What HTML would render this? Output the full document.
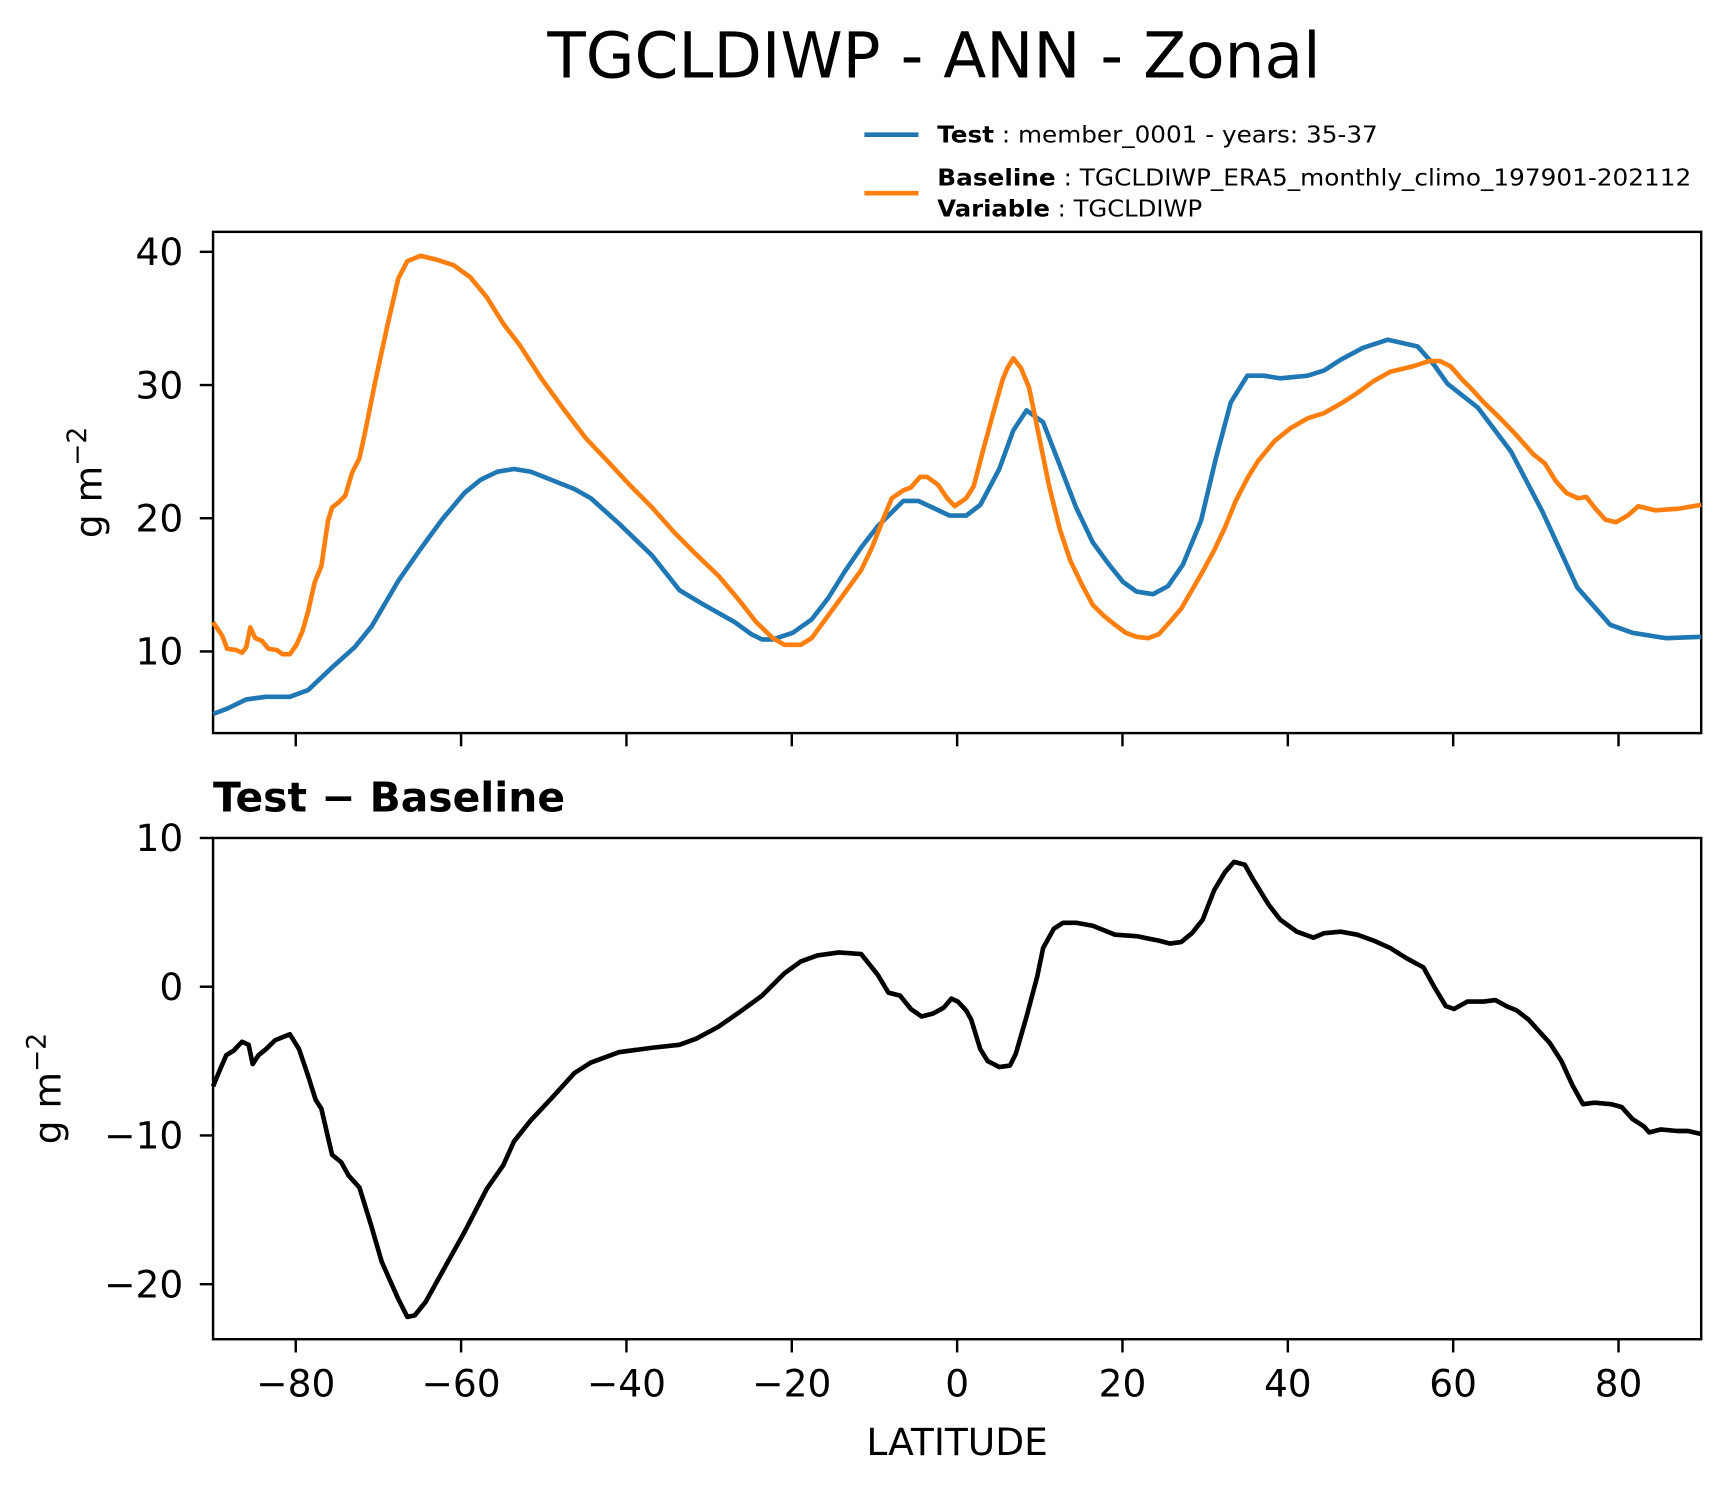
<!DOCTYPE html>
<html><head><meta charset="utf-8"><style>
html,body{margin:0;padding:0;background:#fff;}
svg{display:block;font-family:"DejaVu Sans","Liberation Sans",sans-serif;}
</style></head><body>
<svg id="chart" width="1731" height="1496" viewBox="0 0 1568 1355" preserveAspectRatio="none" xmlns="http://www.w3.org/2000/svg">
<text x="846" y="70" font-size="57" text-anchor="middle">TGCLDIWP - ANN - Zonal</text>
<g>
<line x1="783" y1="122" x2="832" y2="122" stroke="#1f77b4" stroke-width="4.2"/>
<text x="849" y="129" font-size="21" textLength="399" lengthAdjust="spacingAndGlyphs"><tspan font-weight="bold">Test</tspan> : member_0001 - years: 35-37</text>
<line x1="783" y1="175" x2="832" y2="175" stroke="#ff7f0e" stroke-width="4.2"/>
<text x="849" y="168" font-size="21" textLength="683" lengthAdjust="spacingAndGlyphs"><tspan font-weight="bold">Baseline</tspan> : TGCLDIWP_ERA5_monthly_climo_197901-202112</text>
<text x="849" y="196" font-size="21" textLength="240" lengthAdjust="spacingAndGlyphs"><tspan font-weight="bold">Variable</tspan> : TGCLDIWP</text>
</g>
<g id="top"></g>
<g id="bot"></g>
<text x="193" y="735" font-size="37" font-weight="bold">Test − Baseline</text>
<text x="867" y="1318" font-size="34" text-anchor="middle">LATITUDE</text>
<text transform="translate(92,437) rotate(-90)" font-size="34" text-anchor="middle">g m<tspan dy="-14" font-size="24">−2</tspan></text>
<text transform="translate(55,986) rotate(-90)" font-size="34" text-anchor="middle">g m<tspan dy="-14" font-size="24">−2</tspan></text>
</svg>
<script>
const xTicks=[-80,-60,-40,-20,0,20,40,60,80];
const topTicks=[10,20,30,40];
const botTicks=[-20,-10,0,10];
const testLat=[-90,-88.3,-86,-83.6,-80.7,-78.5,-75.6,-72.9,-70.8,-67.6,-64.9,-62.3,-59.6,-57.6,-55.6,-53.6,-51.6,-46.3,-44.3,-40.9,-36.9,-33.6,-30.9,-26.9,-24.9,-23.6,-22.3,-19.9,-17.6,-15.6,-13.6,-11.6,-9.6,-6.5,-4.7,-0.9,1.1,2.8,5.1,6.8,8.4,10.4,12.4,14.4,16.4,18.4,20.1,21.7,23.7,25.5,27.3,29.5,31.3,33.1,35.1,37.1,39.1,42.4,44.4,46.4,49.1,52.1,55.7,57.7,59.3,63,67,70.8,75,79,81.7,85.7,90];
const testVal=[5.3,5.7,6.4,6.6,6.6,7.1,8.8,10.3,11.9,15.3,17.7,19.9,21.9,22.9,23.5,23.7,23.5,22.2,21.5,19.6,17.2,14.6,13.6,12.2,11.3,10.9,10.9,11.4,12.4,14,16,17.8,19.4,21.3,21.3,20.2,20.2,21,23.7,26.6,28.1,27.2,24,20.8,18.2,16.5,15.2,14.5,14.3,14.9,16.5,19.8,24.5,28.7,30.7,30.7,30.5,30.7,31.1,31.9,32.8,33.4,32.9,31.5,30.1,28.3,25,20.5,14.8,12,11.4,11,11.1];
const baseLat=[-90,-88.9,-88.3,-87.2,-86.5,-86,-85.5,-84.9,-84.1,-83.3,-82.3,-81.6,-80.7,-79.9,-79.2,-78.5,-77.7,-76.9,-76.1,-75.6,-74.8,-74,-73.2,-72.3,-71.6,-70.3,-68.9,-67.6,-66.5,-64.9,-62.9,-60.9,-58.9,-56.9,-54.9,-52.9,-50.3,-47.6,-44.9,-42.3,-39.6,-36.9,-34.3,-31.6,-28.9,-26.3,-24.3,-22.3,-20.9,-18.9,-17.6,-15.6,-13.6,-11.6,-10.3,-8.9,-7.9,-6.5,-5.6,-4.5,-3.6,-2.3,-1.2,-0.3,1.1,2,3.1,4.4,5.5,6.1,6.8,7.7,8.7,9.7,11.1,12.4,13.7,15.1,16.4,17.7,19.1,20.4,21.7,23.1,24.4,25.7,27.1,28.4,29.7,31.1,32.4,33.7,35.1,36.4,38.4,40.4,42.4,44.4,46.4,48.4,50.4,52.4,55.1,57.1,58.4,59.7,61.1,62.4,63.7,65.7,67.7,69.7,71.1,72.4,73.7,75.1,76.1,77.1,78.4,79.7,81.1,82.4,84.4,87.1,90];
const baseVal=[12.2,11.2,10.2,10.1,9.9,10.3,11.8,11.0,10.8,10.2,10.1,9.8,9.8,10.5,11.5,13,15.2,16.4,19.8,20.8,21.2,21.7,23.4,24.5,26.5,30.5,34.5,38,39.3,39.7,39.4,39.0,38.1,36.6,34.6,33,30.5,28.2,26,24.3,22.5,20.8,19.0,17.3,15.7,13.8,12.2,11.0,10.5,10.5,11,12.7,14.4,16.1,17.8,20,21.5,22.1,22.3,23.1,23.1,22.5,21.5,20.9,21.5,22.4,25,28,30.4,31.3,32.0,31.3,29.8,26.8,22.5,19.2,16.8,15,13.5,12.7,12,11.4,11.1,11,11.3,12.2,13.2,14.6,16,17.6,19.3,21.3,23,24.3,25.8,26.8,27.5,27.9,28.6,29.4,30.3,31,31.4,31.8,31.8,31.4,30.4,29.6,28.7,27.5,26.2,24.8,24.1,22.8,21.9,21.5,21.6,20.8,19.9,19.7,20.2,20.9,20.6,20.7,21];
const diffLat=[-90,-89.1,-88.4,-87.5,-86.5,-85.7,-85.2,-84.5,-83.6,-82.5,-81.6,-80.7,-79.6,-78.5,-77.6,-76.9,-75.6,-74.5,-73.6,-72.3,-70.9,-69.6,-67.6,-66.5,-65.6,-64.3,-62.3,-59.6,-56.9,-54.9,-53.6,-51.6,-48.9,-46.3,-44.3,-40.9,-36.9,-33.6,-31.6,-28.9,-26.3,-23.6,-20.9,-18.9,-16.9,-14.3,-11.6,-9.6,-8.3,-6.9,-5.6,-4.3,-2.9,-1.6,-0.7,0.1,1.1,1.7,2.8,3.7,5.1,6.4,7.1,8.4,9.7,10.4,11.7,12.8,14.4,16.4,19.1,21.7,24.4,25.7,27.1,28.4,29.7,31.1,32.4,33.5,34.8,35.7,37.7,39.1,41.1,43.1,44.4,46.4,48.4,50.4,52.4,54.4,56.4,57.7,59.1,60.1,61.7,63.7,65.1,66.4,67.7,69.1,70.4,71.7,73.1,74.4,75.7,77.1,79.1,80.4,81.7,83.1,83.7,85.1,87.1,88.4,90];
const diffVal=[-6.7,-5.5,-4.6,-4.3,-3.7,-3.9,-5.2,-4.6,-4.2,-3.6,-3.4,-3.2,-4.2,-6,-7.6,-8.2,-11.3,-11.8,-12.7,-13.5,-16,-18.5,-21,-22.2,-22.1,-21.2,-19.2,-16.5,-13.6,-12,-10.4,-9.0,-7.4,-5.8,-5.1,-4.4,-4.1,-3.9,-3.5,-2.7,-1.7,-0.6,0.9,1.7,2.1,2.3,2.2,0.8,-0.4,-0.6,-1.5,-2.0,-1.8,-1.4,-0.8,-1.0,-1.6,-2.2,-4.2,-5.0,-5.4,-5.3,-4.5,-2,0.7,2.6,3.9,4.3,4.3,4.1,3.5,3.4,3.1,2.9,3.0,3.6,4.5,6.5,7.7,8.4,8.2,7.3,5.5,4.5,3.7,3.3,3.6,3.7,3.5,3.1,2.6,1.9,1.3,0,-1.3,-1.5,-1.0,-1.0,-0.9,-1.3,-1.6,-2.2,-3,-3.8,-5,-6.6,-7.9,-7.8,-7.9,-8.1,-8.9,-9.4,-9.8,-9.6,-9.7,-9.7,-9.9];

const NS='http://www.w3.org/2000/svg';
const X0=193,X1=1541;
function xS(v){return X0+(v+90)/180*(X1-X0);}
function mk(tag,parent){const e=document.createElementNS(NS,tag);parent.appendChild(e);return e;}
function panel(g,top,bot,ymin,ymax,ticks,showX,name){
  const yS=v=>bot-(v-ymin)/(ymax-ymin)*(bot-top);
  const frame=mk('rect',g);
  
  
  frame.setAttribute('x',X0);frame.setAttribute('y',top);frame.setAttribute('width',X1-X0);frame.setAttribute('height',bot-top);
  frame.setAttribute('fill','none');frame.setAttribute('stroke','#000');frame.setAttribute('stroke-width','2.2');
  ticks.forEach(t=>{
    const l=mk('line',g);
    
    
    l.setAttribute('x1',X0-12);l.setAttribute('x2',X0);l.setAttribute('y1',yS(t));l.setAttribute('y2',yS(t));l.setAttribute('stroke','#000');l.setAttribute('stroke-width','2.2');
    const tx=mk('text',g);
    
    
    tx.setAttribute('x',X0-27);tx.setAttribute('y',yS(t)+12);tx.setAttribute('text-anchor','end');tx.setAttribute('font-size','34');
    tx.textContent=String(t).replace('-','−');
  });
  xTicks.forEach(t=>{
    const l=mk('line',g);
    
    
    l.setAttribute('x1',xS(t));l.setAttribute('x2',xS(t));l.setAttribute('y1',bot);l.setAttribute('y2',bot+12);l.setAttribute('stroke','#000');l.setAttribute('stroke-width','2.2');
    if(showX){
      const tx=mk('text',g);
      
      
      tx.setAttribute('x',xS(t));tx.setAttribute('y',bot+52);tx.setAttribute('text-anchor','middle');tx.setAttribute('font-size','34');
      tx.textContent=String(t).replace('-','−');
    }
  });
  return yS;
}
function series(g,lat,val,yS,color,name){
  const p=mk('path',g);
  
  
  p.setAttribute('d',lat.map((l,i)=>(i?'L':'M')+xS(l).toFixed(1)+','+yS(val[i]).toFixed(1)).join(''));
  p.setAttribute('fill','none');p.setAttribute('stroke',color);p.setAttribute('stroke-width','4.2');p.setAttribute('stroke-linejoin','round');
}
const gt=document.getElementById('top'),gb=document.getElementById('bot');
const yT=panel(gt,210,664,3.87,41.5,topTicks,false,'top');
series(gt,testLat,testVal,yT,'#1f77b4','test-line');
series(gt,baseLat,baseVal,yT,'#ff7f0e','baseline-line');
const yB=panel(gb,759,1213,-23.7,10,botTicks,true,'bottom');
series(gb,diffLat,diffVal,yB,'#000','difference-line');
</script>
</body></html>
